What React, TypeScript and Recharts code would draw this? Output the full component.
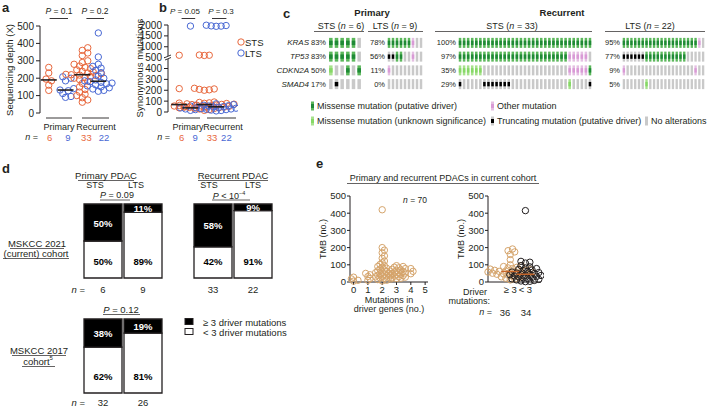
import React from "react";
import { ScatterChart, Scatter, XAxis, YAxis, BarChart, Bar, LabelList } from "recharts";

const FONT = "'Liberation Sans', Arial, Helvetica, sans-serif";
const INK = "#231f20";
const STS_C = "#e8673c";
const LTS_C = "#4868d4";
const TAN = "#d5a46b";
const MED_E = "#c8662a";
const GRAY = "#c9c9c9";

// a: sequencing depth
const depthPrimarySTS = [262, 230, 195, 185, 160, 130];
const depthPrimaryLTS = [208, 200, 185, 140, 132, 128, 112, 95, 90];
const depthRecurrentSTS = [375, 360, 345, 330, 300, 290, 280, 270, 262, 255, 248, 240, 235, 230, 226, 222, 220, 218, 215, 210, 205, 200, 192, 182, 170, 150, 135, 120, 108, 100, 88, 75, 62];
const depthRecurrentLTS = [460, 322, 280, 268, 258, 245, 232, 212, 200, 190, 185, 180, 176, 172, 168, 162, 156, 150, 145, 138, 130, 125];
const depthTicks = [0, 100, 200, 300, 400, 500];

// b: synonymous mutations (broken axis above 500)
const synPrimarySTS = [610, 215, 82, 55, 45, 38];
const synPrimaryLTS = [1950, 62, 55, 45, 38, 32, 28, 22, 15];
const synRecurrentSTS = [620, 610, 600, 218, 212, 208, 204, 200, 92, 88, 84, 80, 78, 75, 72, 70, 68, 65, 62, 60, 58, 55, 52, 50, 48, 45, 42, 40, 36, 32, 28, 22, 15];
const synRecurrentLTS = [1990, 1975, 1960, 1950, 1940, 75, 68, 62, 58, 55, 50, 46, 42, 38, 35, 32, 28, 25, 22, 18, 14, 10];
const synTicks = [0, 100, 200, 300, 400, 500, 1000, 1500, 2000];

// c: oncoprint  D missense driver, U missense unknown, T truncating, O other, - none
const genes = ["KRAS", "TP53", "CDKN2A", "SMAD4"];
const primarySTSCells = ["DDDDD-", "DDDDD-", "U--D-D", "-T----"];
const primarySTSPct = [83, 83, 50, 17];
const primaryLTSCells = ["DDDDDDO--", "TTDD--O--", "O--------", "---------"];
const primaryLTSPct = [78, 56, 11, 0];
const recurrentSTSCells = [
  "DDDDDDDDDDD" + "DDDDDDDDDDD" + "DDDDDDDDDDD",
  "DDDDDDDDDDD" + "DDDDDDDDDDD" + "DDDDD" + "OOOOO-",
  "UUUUUU" + "----------" + "----------" + "-" + "OOOOOD",
  "T-----TTTTTTT" + "----------" + "----" + "U----T",
];
const recurrentSTSPct = [100, 97, 35, 29];
const recurrentLTSCells = [
  "DDDDDDDDDD" + "DDDDDDDDDD" + "O-",
  "TTTTTT" + "DDDDDDDDDDD" + "-----",
  "O" + "----------" + "--------" + "O--",
  "------U" + "----------" + "-----",
];
const recurrentLTSPct = [95, 77, 9, 5];

// d: driver mutation burden (%)
const dGroups = ["STS", "LTS"];
const primary2021High = [50, 11];
const primary2021Low = [50, 89];
const recurrent2021High = [58, 9];
const recurrent2021Low = [42, 91];
const cohort2017High = [38, 19];
const cohort2017Low = [62, 81];

// e: TMB
const tmbDriver0 = [28, 18, 10, 5];
const tmbDriver1 = [50, 42, 32, 20, 10];
const tmbDriver2 = [420, 200, 185, 170, 152, 138, 122, 112, 102, 95, 90, 85, 80, 75, 70, 65, 60, 57, 54, 51, 48, 45, 42, 39, 36, 33, 30, 27, 24, 21, 18, 14, 10, 6];
const tmbDriver3 = [95, 90, 86, 82, 78, 74, 70, 67, 64, 61, 58, 55, 52, 49, 46, 43, 40, 37, 34, 31, 28, 25, 22, 20];
const tmbDriver4 = [78, 62, 48];
const tmbHigh = [192, 182, 175, 160, 130, 100, 95, 90, 86, 82, 78, 75, 72, 70, 68, 66, 64, 62, 60, 58, 56, 55, 53, 51, 49, 47, 45, 43, 40, 37, 34, 30, 26, 22, 17, 12];
const tmbLow = [415, 120, 115, 110, 95, 88, 82, 78, 74, 70, 66, 62, 58, 55, 52, 49, 46, 44, 42, 40, 38, 35, 32, 30, 27, 24, 21, 18, 15, 12, 9, 6, 4, 2];
const tmbTicks = [0, 100, 200, 300, 400, 500];
const driverCountTicks = [0, 1, 2, 3, 4, 5];
const driverGroups = ["≥ 3", "< 3"];

const median = (v: number[]) => {
  const s = [...v].sort((a, b) => a - b);
  const m = s.length >> 1;
  return s.length % 2 ? s[m] : (s[m - 1] + s[m]) / 2;
};

// simple beeswarm: spread points sideways so rings don't pile up
function swarm(values: number[], cx: number, pxPerX: number, pxPerY: number, step = 3, minDist = 4.5) {
  const placed: { dx: number; py: number }[] = [];
  const pts: { x: number; y: number }[] = [];
  [...values].sort((a, b) => a - b).forEach((v) => {
    const py = v * pxPerY;
    let k = 0;
    let dx = 0;
    for (;;) {
      dx = k === 0 ? 0 : (k % 2 === 1 ? 1 : -1) * Math.ceil(k / 2) * step;
      if (placed.every((p) => Math.hypot(p.dx - dx, p.py - py) >= minDist)) break;
      k++;
    }
    placed.push({ dx, py });
    pts.push({ x: cx + dx / pxPerX, y: v });
  });
  return pts;
}

const ring = (color: string, r = 3.2) => (p: any) => (
  <circle cx={p.cx} cy={p.cy} r={r} fill="none" stroke={color} strokeWidth={1} />
);
const medLine = (color: string, half = 8, w = 1.6) => (p: any) => (
  <line x1={p.cx - half} x2={p.cx + half} y1={p.cy} y2={p.cy} stroke={color} strokeWidth={w} />
);

const tickStyle = { fontSize: 10, fill: INK };
const axisStyle = { stroke: INK, strokeWidth: 1 };

function DepthChart() {
  const groups = [
    { v: depthPrimarySTS, c: STS_C, x: 0.6 },
    { v: depthPrimaryLTS, c: LTS_C, x: 1.75 },
    { v: depthRecurrentSTS, c: STS_C, x: 2.9 },
    { v: depthRecurrentLTS, c: LTS_C, x: 4.0 },
  ];
  const pxY = 87 / 500;
  return (
    <div style={{ position: "absolute", left: 0, top: 0 }}>
      <ScatterChart width={116} height={150} margin={{ top: 26, right: 4, bottom: 37, left: 8 }}>
        <XAxis type="number" dataKey="x" domain={[0, 4.5]} hide />
        <YAxis type="number" dataKey="y" domain={[0, 500]} ticks={depthTicks} interval={0} width={32}
          tick={tickStyle} axisLine={axisStyle} tickLine={axisStyle} tickSize={4} />
        {groups.map((g, i) => (
          <Scatter key={i} data={swarm(g.v, g.x, 16, pxY)} shape={ring(g.c)} isAnimationActive={false} />
        ))}
        {groups.map((g, i) => (
          <Scatter key={"m" + i} data={[{ x: g.x, y: median(g.v) }]} shape={medLine(INK)} isAnimationActive={false} />
        ))}
      </ScatterChart>
    </div>
  );
}

const brk = (v: number) => (v <= 500 ? v : 500 + (v - 500) / 5);

function SynChart() {
  const groups = [
    { v: synPrimarySTS, c: STS_C, x: 0.85 },
    { v: synPrimaryLTS, c: LTS_C, x: 1.7 },
    { v: synRecurrentSTS, c: STS_C, x: 2.75 },
    { v: synRecurrentLTS, c: LTS_C, x: 3.65 },
  ];
  const pxY = 87 / 800;
  return (
    <div style={{ position: "absolute", left: 130, top: 0 }}>
      <ScatterChart width={108} height={150} margin={{ top: 25, right: 2, bottom: 38, left: 8 }}>
        <XAxis type="number" dataKey="x" domain={[0, 4.25]} hide />
        <YAxis type="number" dataKey="y" domain={[0, 800]} ticks={synTicks.map(brk)} interval={0} width={30}
          tickFormatter={(t: number) => String(t <= 500 ? t : 500 + (t - 500) * 5)}
          tick={tickStyle} axisLine={axisStyle} tickLine={axisStyle} tickSize={4} />
        {groups.map((g, i) => (
          <Scatter key={i} data={swarm(g.v.map(brk), g.x, 16, pxY, 3, 4)} shape={ring(g.c)} isAnimationActive={false} />
        ))}
        {groups.map((g, i) => (
          <Scatter key={"m" + i} data={[{ x: g.x, y: brk(median(g.v)) }]} shape={medLine(INK)} isAnimationActive={false} />
        ))}
      </ScatterChart>
    </div>
  );
}

const MUT: Record<string, string> = { D: "#1f8a36", U: "#86d866", T: "#000", O: "#d99ad6" };
const CELL_BG: Record<string, string> = { D: "#5cb85c", U: "#a7e28d", O: "#e4bfe2", T: GRAY, "-": GRAY };

function OncoGroup({ rows, pct, left, axisW, plotW, showGenes }: any) {
  const n = rows[0].length;
  const data = rows.flatMap((row: string, gi: number) =>
    row.split("").map((s, si) => ({ x: si, y: gi, s }))
  );
  const cw = Math.max(2, (plotW / n) * 0.62);
  const cell = (p: any) => {
    const s = p.payload?.s ?? p.s;
    const h = 10;
    const x = p.cx - cw / 2;
    const y = p.cy - h / 2;
    return (
      <g>
        <rect x={x} y={y} width={cw} height={h} fill={CELL_BG[s]} />
        {s !== "-" && <rect x={x} y={p.cy - 2.2} width={cw} height={4.4} fill={MUT[s]} />}
      </g>
    );
  };
  const tick = (p: any) => (
    <g>
      <text x={p.x} y={p.y} textAnchor="end" dominantBaseline="central" fontSize={7.5} fill={INK}>
        {pct[p.payload.value]}%
      </text>
      {showGenes && (
        <text x={p.x - 17} y={p.y} textAnchor="end" dominantBaseline="central" fontSize={8} fontStyle="italic" fill={INK}>
          {genes[p.payload.value]}
        </text>
      )}
    </g>
  );
  return (
    <div style={{ position: "absolute", left, top: 36 }}>
      <ScatterChart width={axisW + plotW} height={55} margin={{ top: 0, right: 0, bottom: 0, left: 0 }}>
        <XAxis type="number" dataKey="x" domain={[-0.5, n - 0.5]} hide />
        <YAxis type="number" dataKey="y" domain={[-0.5, 3.5]} reversed ticks={[0, 1, 2, 3]} interval={0}
          width={axisW} axisLine={false} tickLine={false} tickSize={0} tickMargin={2} tick={tick} />
        <Scatter data={data} shape={cell} isAnimationActive={false} />
      </ScatterChart>
    </div>
  );
}

const labelBox = (p: any) => {
  const vb = p.viewBox && p.viewBox.width !== undefined ? p.viewBox : p;
  return { x: Number(vb.x), y: Number(vb.y), w: Number(vb.width), h: Number(vb.height) };
};
const highLabel = (p: any) => {
  const b = labelBox(p);
  return (
    <text x={b.x + b.w / 2} y={b.y + b.h / 2 + 0.5} textAnchor="middle" dominantBaseline="central" fontSize={9.5} fontWeight="bold" fill="#fff">
      {p.value}%
    </text>
  );
};
const lowLabel = (p: any) => {
  const b = labelBox(p);
  return (
    <text x={b.x + b.w / 2} y={b.y + b.h - 17} textAnchor="middle" dominantBaseline="central" fontSize={9.5} fontWeight="bold" fill="#000">
      {p.value}%
    </text>
  );
};

function StackBars({ high, low, left, top }: any) {
  const data = dGroups.map((g, i) => ({ g, high: high[i], low: low[i] }));
  return (
    <div style={{ position: "absolute", left, top }}>
      <BarChart width={80} height={76} data={data} margin={{ top: 1, right: 0, bottom: 1, left: 0 }} barCategoryGap={1}>
        <XAxis dataKey="g" hide />
        <YAxis domain={[0, 100]} hide />
        <Bar dataKey="low" stackId="s" fill="#fff" stroke={INK} strokeWidth={1.3} isAnimationActive={false}>
          <LabelList dataKey="low" content={lowLabel} />
        </Bar>
        <Bar dataKey="high" stackId="s" fill="#000" stroke={INK} strokeWidth={1.3} isAnimationActive={false}>
          <LabelList dataKey="high" content={highLabel} />
        </Bar>
      </BarChart>
    </div>
  );
}

const eTick = { fontSize: 9.5, fill: INK };

function TmbByCount() {
  const cols = [tmbDriver0, tmbDriver1, tmbDriver2, tmbDriver3, tmbDriver4];
  const pxX = 78 / 5.45;
  const pxY = 86 / 500;
  return (
    <div style={{ position: "absolute", left: 322, top: 186 }}>
      <ScatterChart width={109} height={120} margin={{ top: 10, right: 3, bottom: 10, left: 0 }}>
        <XAxis type="number" dataKey="x" domain={[-0.25, 5.2]} ticks={driverCountTicks} interval={0} height={14}
          tick={eTick} axisLine={axisStyle} tickLine={axisStyle} tickSize={3} tickMargin={1} />
        <YAxis type="number" dataKey="y" domain={[0, 500]} ticks={tmbTicks} interval={0} width={28}
          tick={eTick} axisLine={axisStyle} tickLine={axisStyle} tickSize={3} tickMargin={1} />
        {cols.map((v, i) => (
          <Scatter key={i} data={swarm(v, i, pxX, pxY, 2.2, 2.6)} shape={ring(TAN)} isAnimationActive={false} />
        ))}
      </ScatterChart>
    </div>
  );
}

function TmbByDriver() {
  const groups = [
    { v: tmbHigh, c: TAN, x: 1 },
    { v: tmbLow, c: INK, x: 2 },
  ];
  const pxX = 53 / 2.6;
  const pxY = 86 / 500;
  return (
    <div style={{ position: "absolute", left: 460, top: 186 }}>
      <ScatterChart width={84} height={120} margin={{ top: 10, right: 3, bottom: 10, left: 0 }}>
        <XAxis type="number" dataKey="x" domain={[0.15, 2.75]} ticks={[1, 2]} interval={0} height={14}
          tickFormatter={(v: number) => driverGroups[v - 1]}
          tick={eTick} axisLine={axisStyle} tickLine={false} tickSize={3} tickMargin={1} />
        <YAxis type="number" dataKey="y" domain={[0, 500]} ticks={tmbTicks} interval={0} width={28}
          tick={eTick} axisLine={axisStyle} tickLine={axisStyle} tickSize={3} tickMargin={1} />
        {groups.map((g, i) => (
          <Scatter key={i} data={swarm(g.v, g.x, pxX, pxY, 3, 4)} shape={ring(g.c)} isAnimationActive={false} />
        ))}
        {groups.map((g, i) => (
          <Scatter key={"m" + i} data={[{ x: g.x, y: median(g.v) }]} shape={medLine(MED_E, 9, 1.4)} isAnimationActive={false} />
        ))}
      </ScatterChart>
    </div>
  );
}

function Txt({ x, y, children, a = "middle", s = 9.5, b = false, i = false, c = INK, rot }: any) {
  return (
    <text x={x} y={y} textAnchor={a} dominantBaseline="central" fontSize={s}
      fontWeight={b ? "bold" : "normal"} fontStyle={i ? "italic" : "normal"} fill={c}
      transform={rot ? `rotate(${rot} ${x} ${y})` : undefined}>
      {children}
    </text>
  );
}
const Ln = ({ x1, x2, y, w = 0.9 }: any) => <line x1={x1} x2={x2} y1={y} y2={y} stroke={INK} strokeWidth={w} />;
const It = ({ children }: any) => <tspan fontStyle="italic">{children}</tspan>;

function Overlay() {
  const aX = [49.6, 68, 86.4, 104];
  const bX = [181.6, 195.2, 212, 226.4];
  const nCols = [STS_C, LTS_C, STS_C, LTS_C];
  const nVals = [6, 9, 33, 22];
  return (
    <svg width={708} height={407} style={{ position: "absolute", left: 0, top: 0, pointerEvents: "none", fontFamily: FONT }}>
      {/* a */}
      <Txt x={2} y={7} a="start" s={13} b>a</Txt>
      <Txt x={59} y={11} s={8.5}><It>P</It> = 0.1</Txt>
      <Ln x1={aX[0]} x2={aX[1]} y={18.5} />
      <Txt x={95} y={11} s={8.5}><It>P</It> = 0.2</Txt>
      <Ln x1={aX[2]} x2={aX[3]} y={18.5} />
      <Txt x={9} y={70} rot={-90}>Sequencing depth (X)</Txt>
      <Ln x1={46} x2={72} y={118} />
      <Ln x1={82} x2={109} y={118} />
      <Txt x={59} y={127} s={9}>Primary</Txt>
      <Txt x={96} y={127} s={9}>Recurrent</Txt>
      <Txt x={38} y={137} a="end" s={9}><It>n</It> =</Txt>
      {aX.map((x, i) => <Txt key={"an" + i} x={x} y={137} c={nCols[i]}>{nVals[i]}</Txt>)}

      {/* b */}
      <Txt x={159} y={7} a="start" s={13} b>b</Txt>
      <Txt x={185} y={11} s={8}><It>P</It> = 0.05</Txt>
      <Ln x1={bX[0]} x2={bX[1]} y={18.5} />
      <Txt x={221} y={11} s={8}><It>P</It> = 0.3</Txt>
      <Ln x1={bX[2]} x2={bX[3]} y={18.5} />
      <Txt x={139} y={68} rot={-90}>Synonymous mutations</Txt>
      <rect x={165} y={56} width={6} height={3} fill="#fff" />
      <line x1={165} y1={57.5} x2={171} y2={55} stroke={INK} strokeWidth={0.9} />
      <line x1={165} y1={60} x2={171} y2={57.5} stroke={INK} strokeWidth={0.9} />
      <Ln x1={176} x2={200} y={118} />
      <Ln x1={207} x2={236} y={118} />
      <Txt x={188} y={127} s={9}>Primary</Txt>
      <Txt x={223} y={127} s={9}>Recurrent</Txt>
      <Txt x={170} y={137} a="end" s={9}><It>n</It> =</Txt>
      {bX.map((x, i) => <Txt key={"bn" + i} x={x} y={137} c={nCols[i]}>{nVals[i]}</Txt>)}
      <circle cx={241} cy={42} r={3.2} fill="none" stroke={STS_C} />
      <Txt x={245} y={42} a="start">STS</Txt>
      <circle cx={241} cy={53} r={3.2} fill="none" stroke={LTS_C} />
      <Txt x={245} y={53} a="start">LTS</Txt>

      {/* c */}
      <Txt x={283} y={13} a="start" s={13} b>c</Txt>
      <Txt x={372} y={12} b>Primary</Txt>
      <Txt x={562} y={12} b>Recurrent</Txt>
      <Txt x={341} y={26} s={9}>STS (<It>n</It> = 6)</Txt>
      <Txt x={395} y={26} s={9}>LTS (<It>n</It> = 9)</Txt>
      <Txt x={512} y={26} s={9}>STS (<It>n</It> = 33)</Txt>
      <Txt x={650} y={26} s={9}>LTS (<It>n</It> = 22)</Txt>
      <Ln x1={314} x2={364} y={31.5} w={0.7} />
      <Ln x1={368} x2={423} y={31.5} w={0.7} />
      <Ln x1={435} x2={592} y={31.5} w={0.7} />
      <Ln x1={605} x2={705} y={31.5} w={0.7} />
      <rect x={311} y={101.5} width={3} height={9} fill={CELL_BG.D} />
      <rect x={311} y={104} width={3} height={4} fill={MUT.D} />
      <Txt x={317} y={106} a="start" s={9}>Missense mutation (putative driver)</Txt>
      <rect x={311} y={116.5} width={3} height={9} fill={CELL_BG.U} />
      <rect x={311} y={119} width={3} height={4} fill={MUT.U} />
      <Txt x={317} y={121} a="start" s={9}>Missense mutation (unknown significance)</Txt>
      <rect x={491} y={101.5} width={3} height={9} fill={CELL_BG.O} />
      <rect x={491} y={104} width={3} height={4} fill={MUT.O} />
      <Txt x={497} y={106} a="start" s={9}>Other mutation</Txt>
      <rect x={491} y={116.5} width={3} height={9} fill={GRAY} />
      <rect x={491} y={119} width={3} height={4} fill="#000" />
      <Txt x={497} y={121} a="start" s={9}>Truncating mutation (putative driver)</Txt>
      <rect x={645} y={116.5} width={3} height={9} fill={GRAY} />
      <Txt x={651} y={121} a="start" s={9}>No alterations</Txt>

      {/* d */}
      <Txt x={2} y={168} a="start" s={13} b>d</Txt>
      <Txt x={106} y={175}>Primary PDAC</Txt>
      <Ln x1={78} x2={134} y={180.5} w={0.7} />
      <Txt x={95} y={185} s={9}>STS</Txt>
      <Txt x={136} y={185} s={9}>LTS</Txt>
      <Txt x={117} y={195} s={9}><It>P</It> = 0.09</Txt>
      <Ln x1={100} x2={130} y={200} w={0.7} />
      <Txt x={233} y={175}>Recurrent PDAC</Txt>
      <Ln x1={198} x2={268} y={180.5} w={0.7} />
      <Txt x={209} y={185} s={9}>STS</Txt>
      <Txt x={253} y={185} s={9}>LTS</Txt>
      <Txt x={229} y={195.5} s={9}><It>P</It> &lt; 10<tspan fontSize={5.5} dy={-2.5}>−4</tspan></Txt>
      <Ln x1={212} x2={250} y={200} w={0.7} />
      <Txt x={37} y={243}>MSKCC 2021</Txt>
      <Ln x1={10} x2={64} y={248.5} w={0.7} />
      <Txt x={36} y={253}>(current) cohort</Txt>
      <Ln x1={3} x2={69} y={258.5} w={0.7} />
      <Txt x={85} y={289} a="end"><It>n</It> =</Txt>
      <Txt x={103} y={289}>6</Txt>
      <Txt x={143} y={289}>9</Txt>
      <Txt x={213} y={289}>33</Txt>
      <Txt x={253} y={289}>22</Txt>
      <Txt x={121} y={309}><It>P</It> = 0.12</Txt>
      <Ln x1={103} x2={140} y={314.5} w={0.7} />
      <Txt x={39} y={350}>MSKCC 2017</Txt>
      <Ln x1={12} x2={66} y={355.5} w={0.7} />
      <Txt x={38} y={361}>cohort<tspan fontSize={6} dy={-3}>5</tspan></Txt>
      <Ln x1={22} x2={55} y={366.5} w={0.7} />
      <Txt x={85} y={402} a="end"><It>n</It> =</Txt>
      <Txt x={103} y={402}>32</Txt>
      <Txt x={143} y={402}>26</Txt>
      <rect x={185} y={318.5} width={8} height={6} fill="#000" stroke={INK} />
      <Txt x={203} y={322} a="start">≥ 3 driver mutations</Txt>
      <rect x={185} y={328.5} width={8} height={6} fill="#fff" stroke={INK} />
      <Txt x={203} y={332} a="start">&lt; 3 driver mutations</Txt>

      {/* e */}
      <Txt x={316} y={163} a="start" s={13} b>e</Txt>
      <Txt x={443} y={178} s={9}>Primary and recurrent PDACs in current cohort</Txt>
      <Ln x1={347} x2={539} y={183.5} w={0.7} />
      <Txt x={323} y={239} rot={-90} s={9}>TMB (no.)</Txt>
      <Txt x={461} y={239} rot={-90} s={9}>TMB (no.)</Txt>
      <Txt x={427} y={200} a="end" s={8.5}><It>n</It> = 70</Txt>
      <Txt x={389} y={299.5} s={9}>Mutations in</Txt>
      <Txt x={389} y={308.5} s={9}>driver genes (no.)</Txt>
      <Txt x={487} y={291.5} a="end" s={9}>Driver</Txt>
      <Txt x={490} y={300.5} a="end" s={9}>mutations:</Txt>
      <Txt x={492} y={312} a="end" s={9}><It>n</It> =</Txt>
      <Txt x={505} y={312}>36</Txt>
      <Txt x={526} y={312}>34</Txt>
    </svg>
  );
}

export default function App() {
  return (
    <div style={{ position: "absolute", left: 0, top: 0, width: 708, height: 407, background: "#fff", fontFamily: FONT, overflow: "hidden" }}>
      <DepthChart />
      <SynChart />
      <OncoGroup rows={primarySTSCells} pct={primarySTSPct} left={262} axisW={66} plotW={34} showGenes />
      <OncoGroup rows={primaryLTSCells} pct={primaryLTSPct} left={366} axisW={21} plotW={36} />
      <OncoGroup rows={recurrentSTSCells} pct={recurrentSTSPct} left={434} axisW={24} plotW={134} />
      <OncoGroup rows={recurrentLTSCells} pct={recurrentLTSPct} left={601} axisW={21} plotW={83} />
      <StackBars high={primary2021High} low={primary2021Low} left={83} top={203} />
      <StackBars high={recurrent2021High} low={recurrent2021Low} left={193} top={203} />
      <StackBars high={cohort2017High} low={cohort2017Low} left={83} top={318} />
      <TmbByCount />
      <TmbByDriver />
      <Overlay />
    </div>
  );
}
